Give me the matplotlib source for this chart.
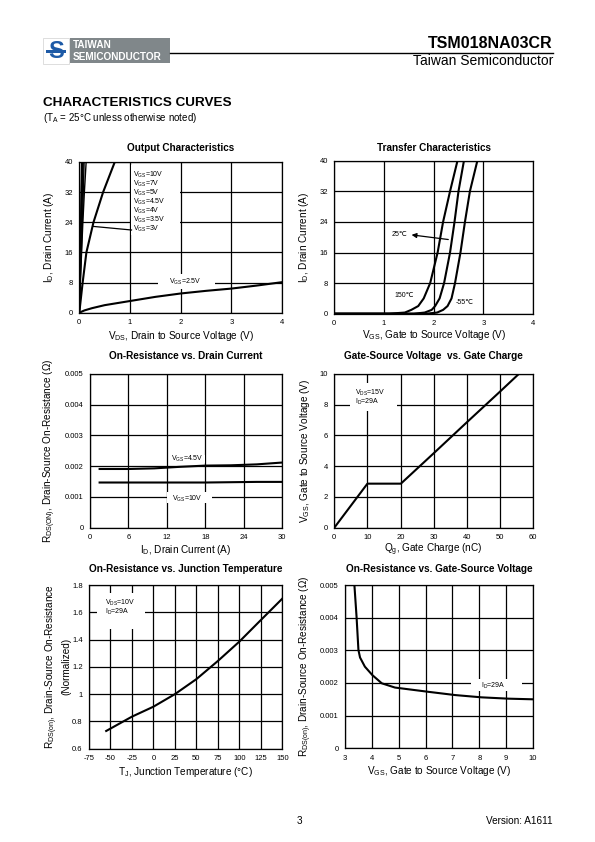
import matplotlib
matplotlib.use('Agg')
import matplotlib.pyplot as plt
from matplotlib.patches import Rectangle

plt.rcParams['font.family'] = ['Liberation Sans', 'DejaVu Sans']
plt.rcParams['mathtext.fontset'] = 'custom'
plt.rcParams['mathtext.rm'] = 'Liberation Sans'
plt.rcParams['mathtext.it'] = 'Liberation Sans:italic'
plt.rcParams['mathtext.bf'] = 'Liberation Sans:bold'
plt.rcParams['axes.unicode_minus'] = False

# ---- data ----
# Output characteristics (Vds in V, Id in A)
out_vgs_labels = ['10V', '7V', '5V', '4.5V', '4V', '3.5V', '3V']
out_steep_vds = {
    '10V': [0, 0.045],
    '7V': [0, 0.055],
    '5V': [0, 0.065],
    '4.5V': [0, 0.075],
    '4V': [0, 0.04, 0.07, 0.095],
    '3.5V': [0, 0.02, 0.045, 0.07, 0.10, 0.135],
}
out_steep_id = {
    '10V': [0, 40],
    '7V': [0, 40],
    '5V': [0, 40],
    '4.5V': [0, 40],
    '4V': [0, 16, 28, 40],
    '3.5V': [0, 8, 16, 24, 32, 40],
}
out_vgs3_vds = [0, 0.066, 0.14, 0.28, 0.47, 0.70]
out_vgs3_id = [0, 8, 16, 24, 32, 40]
out_vgs25_vds = [0, 0.1, 0.25, 0.5, 1.0, 1.5, 2.0, 2.5, 3.0, 3.5, 4.0]
out_vgs25_id = [0, 0.6, 1.2, 2.0, 3.1, 4.2, 5.1, 5.8, 6.4, 7.2, 8.1]

# Transfer characteristics (Vgs in V, Id in A)
tr_id = [0, 0, 0.3, 1.0, 2, 4, 8, 16, 24, 32, 40]
tr_vgs_150 = [0, 1.10, 1.42, 1.55, 1.69, 1.80, 1.93, 2.08, 2.19, 2.33, 2.48]
tr_vgs_25 = [0, 1.60, 1.82, 1.96, 2.03, 2.12, 2.21, 2.33, 2.42, 2.50, 2.61]
tr_vgs_m55 = [0, 1.85, 2.07, 2.19, 2.28, 2.36, 2.43, 2.54, 2.63, 2.73, 2.88]

# On-resistance vs drain current
rid_id = [1.5, 6, 10, 14, 18, 22, 26, 30]
rid_45 = [0.00191, 0.00191, 0.00193, 0.00198, 0.00202, 0.00203, 0.00206, 0.00212]
rid_10 = [0.00147, 0.00147, 0.00147, 0.00147, 0.00147, 0.00148, 0.00149, 0.00149]

# Gate charge
qg_nc = [0, 10, 20.1, 30, 40, 50, 55.8]
qg_vgs = [0, 2.86, 2.86, 4.83, 6.84, 8.83, 10]

# On-resistance vs junction temperature
tj_c = [-55, -25, 0, 25, 50, 75, 100, 125, 150]
tj_rn = [0.73, 0.835, 0.908, 1.0, 1.11, 1.243, 1.385, 1.543, 1.70]

# On-resistance vs gate-source voltage
rv_vgs = [3.35, 3.43, 3.50, 3.56, 3.74, 4.02, 4.37, 4.86, 6.1, 7.1, 8.09, 9.08, 10]
rv_r = [0.005, 0.00403, 0.00301, 0.00278, 0.0025, 0.00224, 0.00199, 0.00186,
        0.00173, 0.00163, 0.00156, 0.00152, 0.0015]

# tick values / labels
out_xticks = [0, 1, 2, 3, 4]
out_yticks = [0, 8, 16, 24, 32, 40]
rid_xticks = [0, 6, 12, 18, 24, 30]
r_yticks = [0, 0.001, 0.002, 0.003, 0.004, 0.005]
r_yticklabels = ['0', '0.001', '0.002', '0.003', '0.004', '0.005']
qg_xticks = [0, 10, 20, 30, 40, 50, 60]
qg_yticks = [0, 2, 4, 6, 8, 10]
tj_xticks = [-75, -50, -25, 0, 25, 50, 75, 100, 125, 150]
tj_yticks = [0.6, 0.8, 1.0, 1.2, 1.4, 1.6, 1.8]
tj_yticklabels = ['0.6', '0.8', '1', '1.2', '1.4', '1.6', '1.8']
rv_xticks = [3, 4, 5, 6, 7, 8, 9, 10]

W, H = 595, 842
LW = 1.5
fig = plt.figure(figsize=(W / 100, H / 100), dpi=100)


def px_axes(l, t, r, b):
    return fig.add_axes([l / W, 1 - b / H, (r - l) / W, (b - t) / H])


def ftext(x, y, s, **kw):
    fig.text(x / W, 1 - y / H, s, **kw)


def style(ax, xlim, ylim, xticks, yticks, xlabels=None, ylabels=None):
    ax.set_xlim(*xlim)
    ax.set_ylim(*ylim)
    ax.set_xticks(xticks)
    ax.set_yticks(yticks)
    if xlabels is not None:
        ax.set_xticklabels(xlabels)
    if ylabels is not None:
        ax.set_yticklabels(ylabels)
    ax.set_axisbelow(True)
    ax.grid(True, color='black', linewidth=0.9)
    ax.tick_params(length=0, labelsize=5.5, pad=4.5)
    for s in ax.spines.values():
        s.set_linewidth(0.9)


def labels(ax, title, xlabel, ylabel, xoff, yoff, toff):
    bb = ax.get_position()
    w_px, h_px = bb.width * W, bb.height * H
    ax.set_xlabel(xlabel, fontsize=7.2)
    ax.set_ylabel(ylabel, fontsize=7.2, linespacing=1.2)
    ax.xaxis.set_label_coords(0.5, -xoff / h_px)
    ax.xaxis.label.set_va('center')
    ax.yaxis.set_label_coords(-yoff / w_px, 0.5)
    ax.yaxis.label.set_va('center')
    ax.text(0.5, 1 + toff / h_px, title, transform=ax.transAxes, ha='center',
            va='center', fontsize=7.2, fontweight='bold')


def whitebox(ax, x0, y0, x1, y1):
    ax.add_patch(Rectangle((x0, y0), x1 - x0, y1 - y0, facecolor='white',
                           edgecolor='none', zorder=1))


# ---- header ----
fig.patches.append(Rectangle((43 / W, 1 - 64 / H), 26 / W, 26 / H, transform=fig.transFigure,
                             facecolor='white', edgecolor='#d8d8d8', linewidth=0.6))
ftext(56, 51, 'S', fontsize=17, fontweight='bold', color='#1d5aa6', ha='center', va='center')
fig.patches.append(Rectangle((46 / W, 1 - 52.5 / H), 20 / W, 2 / H, transform=fig.transFigure,
                             facecolor='#1d5aa6', edgecolor='none'))
fig.patches.append(Rectangle((70 / W, 1 - 63 / H), 100 / W, 25 / H, transform=fig.transFigure,
                             facecolor='#80878a', edgecolor='none'))
ftext(73, 44.5, 'TAIWAN', fontsize=7.2, fontweight='bold', color='white', va='center')
ftext(73, 56.5, 'SEMICONDUCTOR', fontsize=7.2, fontweight='bold', color='white', va='center')
fig.add_artist(plt.Line2D([170 / W, 553 / W], [1 - 53 / H, 1 - 53 / H], color='black', linewidth=1.0))
ftext(553, 44, 'TSM018NA03CR', fontsize=11.5, fontweight='bold', ha='right', va='center')
ftext(553, 61, 'Taiwan Semiconductor', fontsize=10, ha='right', va='center')
ftext(43, 103, 'CHARACTERISTICS CURVES', fontsize=9.7, fontweight='bold', va='center')
ftext(43, 118, r'(T$_{\mathrm{A}}$ = 25°C unless otherwise noted)', fontsize=7, va='center')
ftext(299, 821, '3', fontsize=7.2, ha='center', va='center')
ftext(553, 821, 'Version: A1611', fontsize=7.2, ha='right', va='center')

# ---- 1. Output characteristics ----
ax1 = px_axes(79.3, 162, 282, 312.7)
style(ax1, (0, 4), (0, 40), out_xticks, out_yticks)
for k in out_steep_vds:
    ax1.plot(out_steep_vds[k], out_steep_id[k], color='black', linewidth=1.0, zorder=2)
ax1.plot(out_vgs3_vds, out_vgs3_id, color='black', linewidth=LW, zorder=2)
ax1.plot(out_vgs25_vds, out_vgs25_id, color='black', linewidth=LW, zorder=2)
whitebox(ax1, 1.02, 20.6, 1.98, 39.2)
for i, lab in enumerate(out_vgs_labels):
    ax1.text(1.06, 36.55 - 2.4 * i, r'V$_{\mathrm{GS}}$=' + lab, fontsize=5,
             va='center', zorder=3)
ax1.plot([0.28, 1.03], [22.9, 21.95], color='black', linewidth=0.9, zorder=2)
whitebox(ax1, 1.55, 6.3, 2.67, 10.3)
ax1.text(1.77, 8.3, r'V$_{\mathrm{GS}}$=2.5V', fontsize=5, va='center', zorder=3)
labels(ax1, 'Output Characteristics', r'V$_{\mathrm{DS}}$, Drain to Source Voltage (V)',
       r'I$_{\mathrm{D}}$, Drain Current (A)', 23, 30, 14)

# ---- 2. Transfer characteristics ----
ax2 = px_axes(334.3, 160.7, 533, 313.7)
style(ax2, (0, 4), (0, 40), out_xticks, out_yticks)
for v in (tr_vgs_150, tr_vgs_25, tr_vgs_m55):
    ax2.plot(v, tr_id, color='black', linewidth=LW, zorder=2)
ax2.text(1.15, 20.7, '25℃', fontsize=5, va='center', zorder=3)
ax2.annotate('', xy=(1.50, 20.7), xytext=(2.35, 19.3),
             arrowprops=dict(arrowstyle='-|>', color='black', lw=0.9, mutation_scale=7))
ax2.text(1.22, 4.8, '150℃', fontsize=5, va='center', zorder=3)
ax2.text(2.44, 3.0, '-55℃', fontsize=5, va='center', zorder=3)
labels(ax2, 'Transfer Characteristics', r'V$_{\mathrm{GS}}$, Gate to Source Voltage (V)',
       r'I$_{\mathrm{D}}$, Drain Current (A)', 21, 30, 13)

# ---- 3. On-resistance vs drain current ----
ax3 = px_axes(90, 374, 282.3, 527.7)
style(ax3, (0, 30), (0, 0.005), rid_xticks, r_yticks, ylabels=r_yticklabels)
ax3.plot(rid_id, rid_45, color='black', linewidth=LW, zorder=2)
ax3.plot(rid_id, rid_10, color='black', linewidth=LW, zorder=2)
whitebox(ax3, 12.3, 0.00212, 18.0, 0.00235)
ax3.text(12.6, 0.00223, r'V$_{\mathrm{GS}}$=4.5V', fontsize=5, va='center', zorder=3)
whitebox(ax3, 12.0, 0.0008, 19.0, 0.00117)
ax3.text(12.8, 0.00095, r'V$_{\mathrm{GS}}$=10V', fontsize=5, va='center', zorder=3)
labels(ax3, 'On-Resistance vs. Drain Current', r'I$_{\mathrm{D}}$, Drain Current (A)',
       r'R$_{\mathrm{DS(ON)}}$, Drain-Source On-Resistance (Ω)', 22, 40, 18)

# ---- 4. Gate charge ----
ax4 = px_axes(334.3, 373.7, 533, 527.7)
style(ax4, (0, 60), (0, 10), qg_xticks, qg_yticks)
ax4.plot(qg_nc, qg_vgs, color='black', linewidth=LW, zorder=2)
whitebox(ax4, 4.7, 7.55, 18.8, 9.4)
ax4.text(6.4, 8.73, r'V$_{\mathrm{DS}}$=15V', fontsize=5, va='center', zorder=3)
ax4.text(6.4, 8.14, r'I$_{\mathrm{D}}$=29A', fontsize=5, va='center', zorder=3)
labels(ax4, 'Gate-Source Voltage  vs. Gate Charge', r'Q$_{\mathrm{g}}$, Gate Charge (nC)',
       r'V$_{\mathrm{GS}}$, Gate to Source Voltage (V)', 22, 29.5, 18)

# ---- 5. On-resistance vs junction temperature ----
ax5 = px_axes(89, 585, 282.3, 748.7)
style(ax5, (-75, 150), (0.6, 1.8), tj_xticks, tj_yticks, ylabels=tj_yticklabels)
ax5.plot(tj_c, tj_rn, color='black', linewidth=LW, zorder=2)
whitebox(ax5, -66, 1.48, -10, 1.74)
ax5.text(-56, 1.67, r'V$_{\mathrm{DS}}$=10V', fontsize=5, va='center', zorder=3)
ax5.text(-56, 1.605, r'I$_{\mathrm{D}}$=29A', fontsize=5, va='center', zorder=3)
labels(ax5, 'On-Resistance vs. Junction Temperature', r'T$_{\mathrm{J}}$, Junction Temperature (°C)',
       'R$_{\\mathrm{DS(on)}}$, Drain-Source On-Resistance\n(Normalized)', 23, 31.5, 16)

# ---- 6. On-resistance vs gate-source voltage ----
ax6 = px_axes(345, 585, 533, 748.3)
style(ax6, (3, 10), (0, 0.005), rv_xticks, r_yticks, ylabels=r_yticklabels)
ax6.plot(rv_vgs, rv_r, color='black', linewidth=LW, zorder=2)
whitebox(ax6, 7.7, 0.00175, 9.6, 0.00212)
ax6.text(8.05, 0.00192, r'I$_{\mathrm{D}}$=29A', fontsize=5, va='center', zorder=3)
labels(ax6, 'On-Resistance vs. Gate-Source Voltage', r'V$_{\mathrm{GS}}$, Gate to Source Voltage (V)',
       r'R$_{\mathrm{DS(on)}}$, Drain-Source On-Resistance (Ω)', 23, 39.5, 16)

fig.savefig('out.png', dpi=100)
